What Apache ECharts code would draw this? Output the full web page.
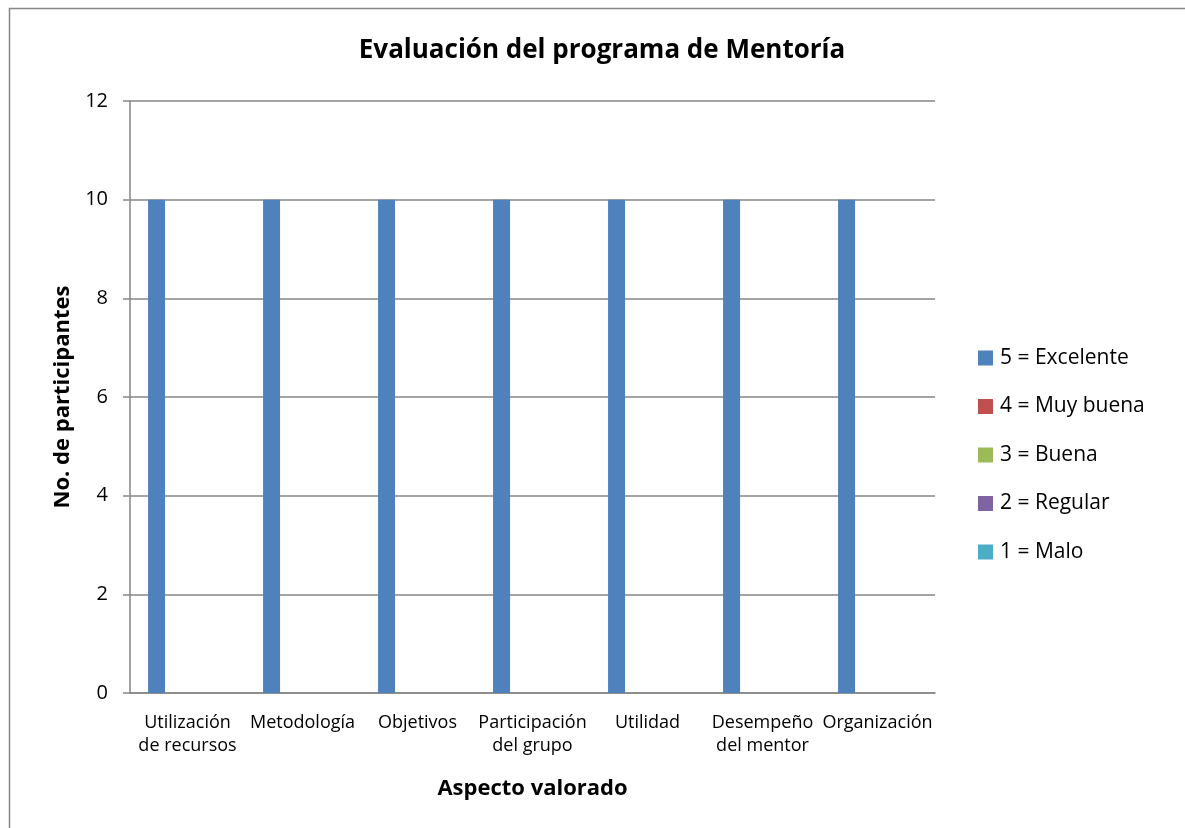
<!DOCTYPE html>
<html>
<head>
<meta charset="utf-8">
<script src="https://cdn.jsdelivr.net/npm/echarts@6/dist/echarts.min.js"></script>
<style>
  html, body { margin: 0; padding: 0; background: #fff; }
  #chart { width: 1185px; height: 828px; }
</style>
</head>
<body>
<div id="chart"></div>
<script>
// aspectos valorados
var categories = ['Utilización\nde recursos', 'Metodología', 'Objetivos', 'Participación\ndel grupo', 'Utilidad', 'Desempeño\ndel mentor', 'Organización']
var seriesNames = ['5 = Excelente', '4 = Muy buena', '3 = Buena', '2 = Regular', '1 = Malo']
var excelente = [10, 10, 10, 10, 10, 10, 10]
var muyBuena = [0, 0, 0, 0, 0, 0, 0]
var buena = [0, 0, 0, 0, 0, 0, 0]
var regular = [0, 0, 0, 0, 0, 0, 0]
var malo = [0, 0, 0, 0, 0, 0, 0]
var yTicks = [0, 2, 4, 6, 8, 10, 12]

var colors = ['#4F81BD', '#C0504D', '#9BBB59', '#8064A2', '#4BACC6']
var font = 'Open Sans'

var chart = echarts.init(document.getElementById('chart'))
var values = [excelente, muyBuena, buena, regular, malo]

chart.setOption({
    animation: false,
    color: colors,
    graphic: [
        {
            type: 'rect',
            shape: { x: 9.5, y: 8.5, width: 1200, height: 850 },
            style: { fill: 'none', stroke: '#868686', lineWidth: 1.5 },
            silent: true
        }
    ],
    title: {
        text: 'Evaluación del programa de Mentoría',
        left: 597,
        top: 33,
        textAlign: 'center',
        textStyle: { fontFamily: font, fontSize: 26, fontWeight: 'bold', color: '#000' }
    },
    legend: {
        orient: 'vertical',
        left: 973,
        top: 341,
        itemWidth: 15,
        itemHeight: 15,
        itemGap: 24.5,
        icon: 'rect',
        data: seriesNames,
        textStyle: { fontFamily: font, fontSize: 21, lineHeight: 24, color: '#000', padding: [0, 0, 0, 2] }
    },
    grid: {
        left: 130,
        top: 101,
        right: 250,
        bottom: 135,
        containLabel: false
    },
    xAxis: {
        type: 'category',
        data: categories,
        name: 'Aspecto valorado',
        nameLocation: 'middle',
        nameGap: 85,
        nameTextStyle: { fontFamily: font, fontSize: 22, fontWeight: 'bold', color: '#000' },
        axisLine: { lineStyle: { color: '#868686', width: 1.5 } },
        axisTick: { show: false },
        axisLabel: {
            interval: 0,
            margin: 18,
            fontFamily: font,
            fontSize: 18,
            lineHeight: 23,
            color: '#000'
        }
    },
    yAxis: {
        type: 'value',
        min: yTicks[0],
        max: yTicks[yTicks.length - 1],
        interval: 2,
        name: 'No. de participantes',
        nameLocation: 'middle',
        nameGap: 56,
        nameTextStyle: { fontFamily: font, fontSize: 22, fontWeight: 'bold', color: '#000' },
        axisLine: { show: true, lineStyle: { color: '#868686', width: 1.5 } },
        axisTick: { show: true, length: 7, lineStyle: { color: '#868686', width: 1.5 } },
        splitLine: { lineStyle: { color: '#868686', width: 1.5 } },
        axisLabel: {
            margin: 22,
            fontFamily: font,
            fontSize: 20,
            color: '#000'
        }
    },
    series: seriesNames.map(function (name, i) {
        return {
            name: name,
            type: 'bar',
            data: values[i],
            barWidth: 17,
            barGap: '-9%'
        }
    })
})
</script>
</body>
</html>
